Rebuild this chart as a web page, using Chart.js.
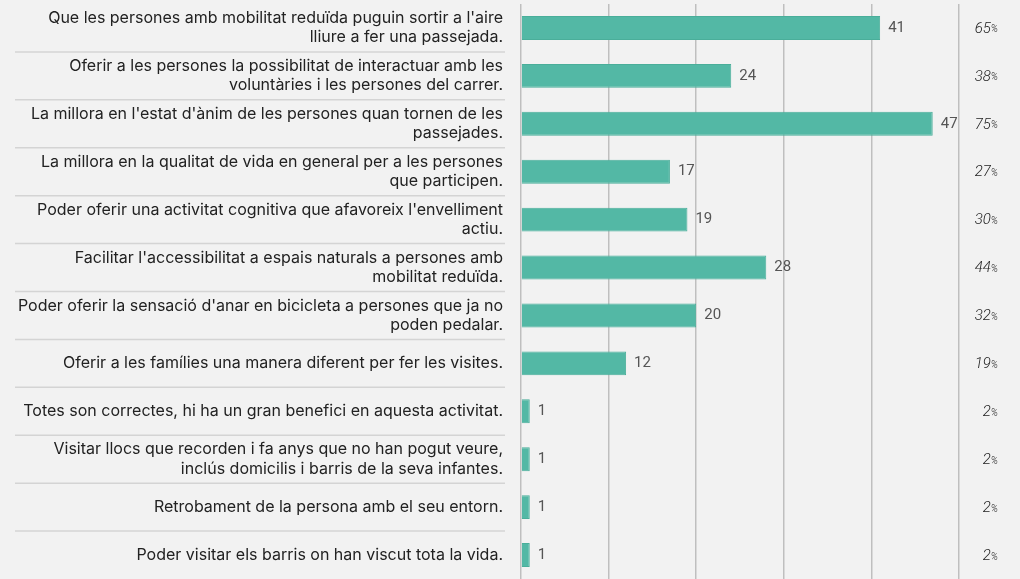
<!DOCTYPE html>
<html>
<head>
<meta charset="utf-8">
<script src="https://cdn.jsdelivr.net/npm/chart.js@4"></script>
<style>
  body { margin: 0; background: #f2f2f2; }
  #wrap { width: 1020px; height: 579px; }
</style>
</head>
<body>
<div id="wrap"><canvas id="chart" width="1020" height="579"></canvas></div>
<script>
// categories (multi-line where the original wraps)
const labels = [
    ["Que les persones amb mobilitat reduïda puguin sortir a l'aire", "lliure a fer una passejada."],
    ["Oferir a les persones la possibilitat de interactuar amb les", "voluntàries i les persones del carrer."],
    ["La millora en l'estat d'ànim de les persones quan tornen de les", "passejades."],
    ["La millora en la qualitat de vida en general per a les persones", "que participen."],
    ["Poder oferir una activitat cognitiva que afavoreix l'envelliment", "actiu."],
    ["Facilitar l'accessibilitat a espais naturals a persones amb", "mobilitat reduïda."],
    ["Poder oferir la sensació d'anar en bicicleta a persones que ja no", "poden pedalar."],
    "Oferir a les famílies una manera diferent per fer les visites.",
    "Totes son correctes, hi ha un gran benefici en aquesta activitat.",
    ["Visitar llocs que recorden i fa anys que no han pogut veure,", "inclús domicilis i barris de la seva infantes."],
    "Retrobament de la persona amb el seu entorn.",
    "Poder visitar els barris on han viscut tota la vida."
];
const counts = [41, 24, 47, 17, 19, 28, 20, 12, 1, 1, 1, 1];
const percents = [65, 38, 75, 27, 30, 44, 32, 19, 2, 2, 2, 2];
const xTicks = [0, 10, 20, 30, 40, 50];

// thin separators between the category labels
const separators = {
    id: 'separators',
    beforeDatasetsDraw(chart) {
        const ctx = chart.ctx;
        const y = chart.scales.y;
        ctx.save();
        ctx.strokeStyle = '#d4d4d4';
        ctx.lineWidth = 1.5;
        for (let i = 0; i < labels.length - 1; i++) {
            const py = (y.getPixelForValue(i) + y.getPixelForValue(i + 1)) / 2;
            ctx.beginPath();
            ctx.moveTo(15, py);
            ctx.lineTo(505, py);
            ctx.stroke();
        }
        ctx.restore();
    }
};

// value after each bar + percentage column on the right
const barTexts = {
    id: 'barTexts',
    afterDatasetsDraw(chart) {
        const ctx = chart.ctx;
        const meta = chart.getDatasetMeta(0);
        ctx.save();
        ctx.textBaseline = 'middle';
        meta.data.forEach((bar, i) => {
            ctx.font = '15px Roboto';
            ctx.fillStyle = '#555';
            ctx.textAlign = 'left';
            ctx.fillText(String(counts[i]), bar.x + 8, bar.y);

            const num = String(percents[i]);
            ctx.font = 'italic 300 15px Roboto';
            const wNum = ctx.measureText(num).width;
            ctx.font = 'italic 300 10px Roboto';
            const wPct = ctx.measureText('%').width;
            const right = 998;
            ctx.fillStyle = '#222';
            ctx.font = 'italic 300 15px Roboto';
            ctx.fillText(num, right - wPct - wNum, bar.y + 1);
            ctx.font = 'italic 300 10px Roboto';
            ctx.fillText('%', right - wPct, bar.y + 2);
        });
        ctx.restore();
    }
};

new Chart(document.getElementById('chart'), {
    type: 'bar',
    data: {
        labels: labels,
        datasets: [{
            data: counts,
            backgroundColor: '#53b8a5',
            borderColor: '#4aae9a',
            borderWidth: 1,
            barPercentage: 0.5,
            categoryPercentage: 1
        }]
    },
    options: {
        indexAxis: 'y',
        responsive: false,
        animation: false,
        layout: { padding: { top: 4, right: 61, bottom: 0, left: 0 } },
        plugins: {
            legend: { display: false },
            tooltip: { enabled: false }
        },
        scales: {
            x: {
                min: 0,
                max: 50,
                afterBuildTicks: (scale) => { scale.ticks = xTicks.map(v => ({ value: v })); },
                afterFit: (scale) => { scale.height = 0; scale.paddingLeft = 0; scale.paddingRight = 0; },
                ticks: { display: false },
                grid: { color: '#bfbfbf', lineWidth: 1.5, drawTicks: false },
                border: { display: false }
            },
            y: {
                afterFit: (scale) => { scale.width = 521; scale.paddingTop = 0; scale.paddingBottom = 0; },
                grid: { display: false },
                border: { display: false },
                ticks: {
                    color: '#222',
                    padding: 10,
                    font: { family: 'Inter', size: 16, lineHeight: 1.2 },
                    autoSkip: false
                }
            }
        }
    },
    plugins: [separators, barTexts]
});
</script>
</body>
</html>
